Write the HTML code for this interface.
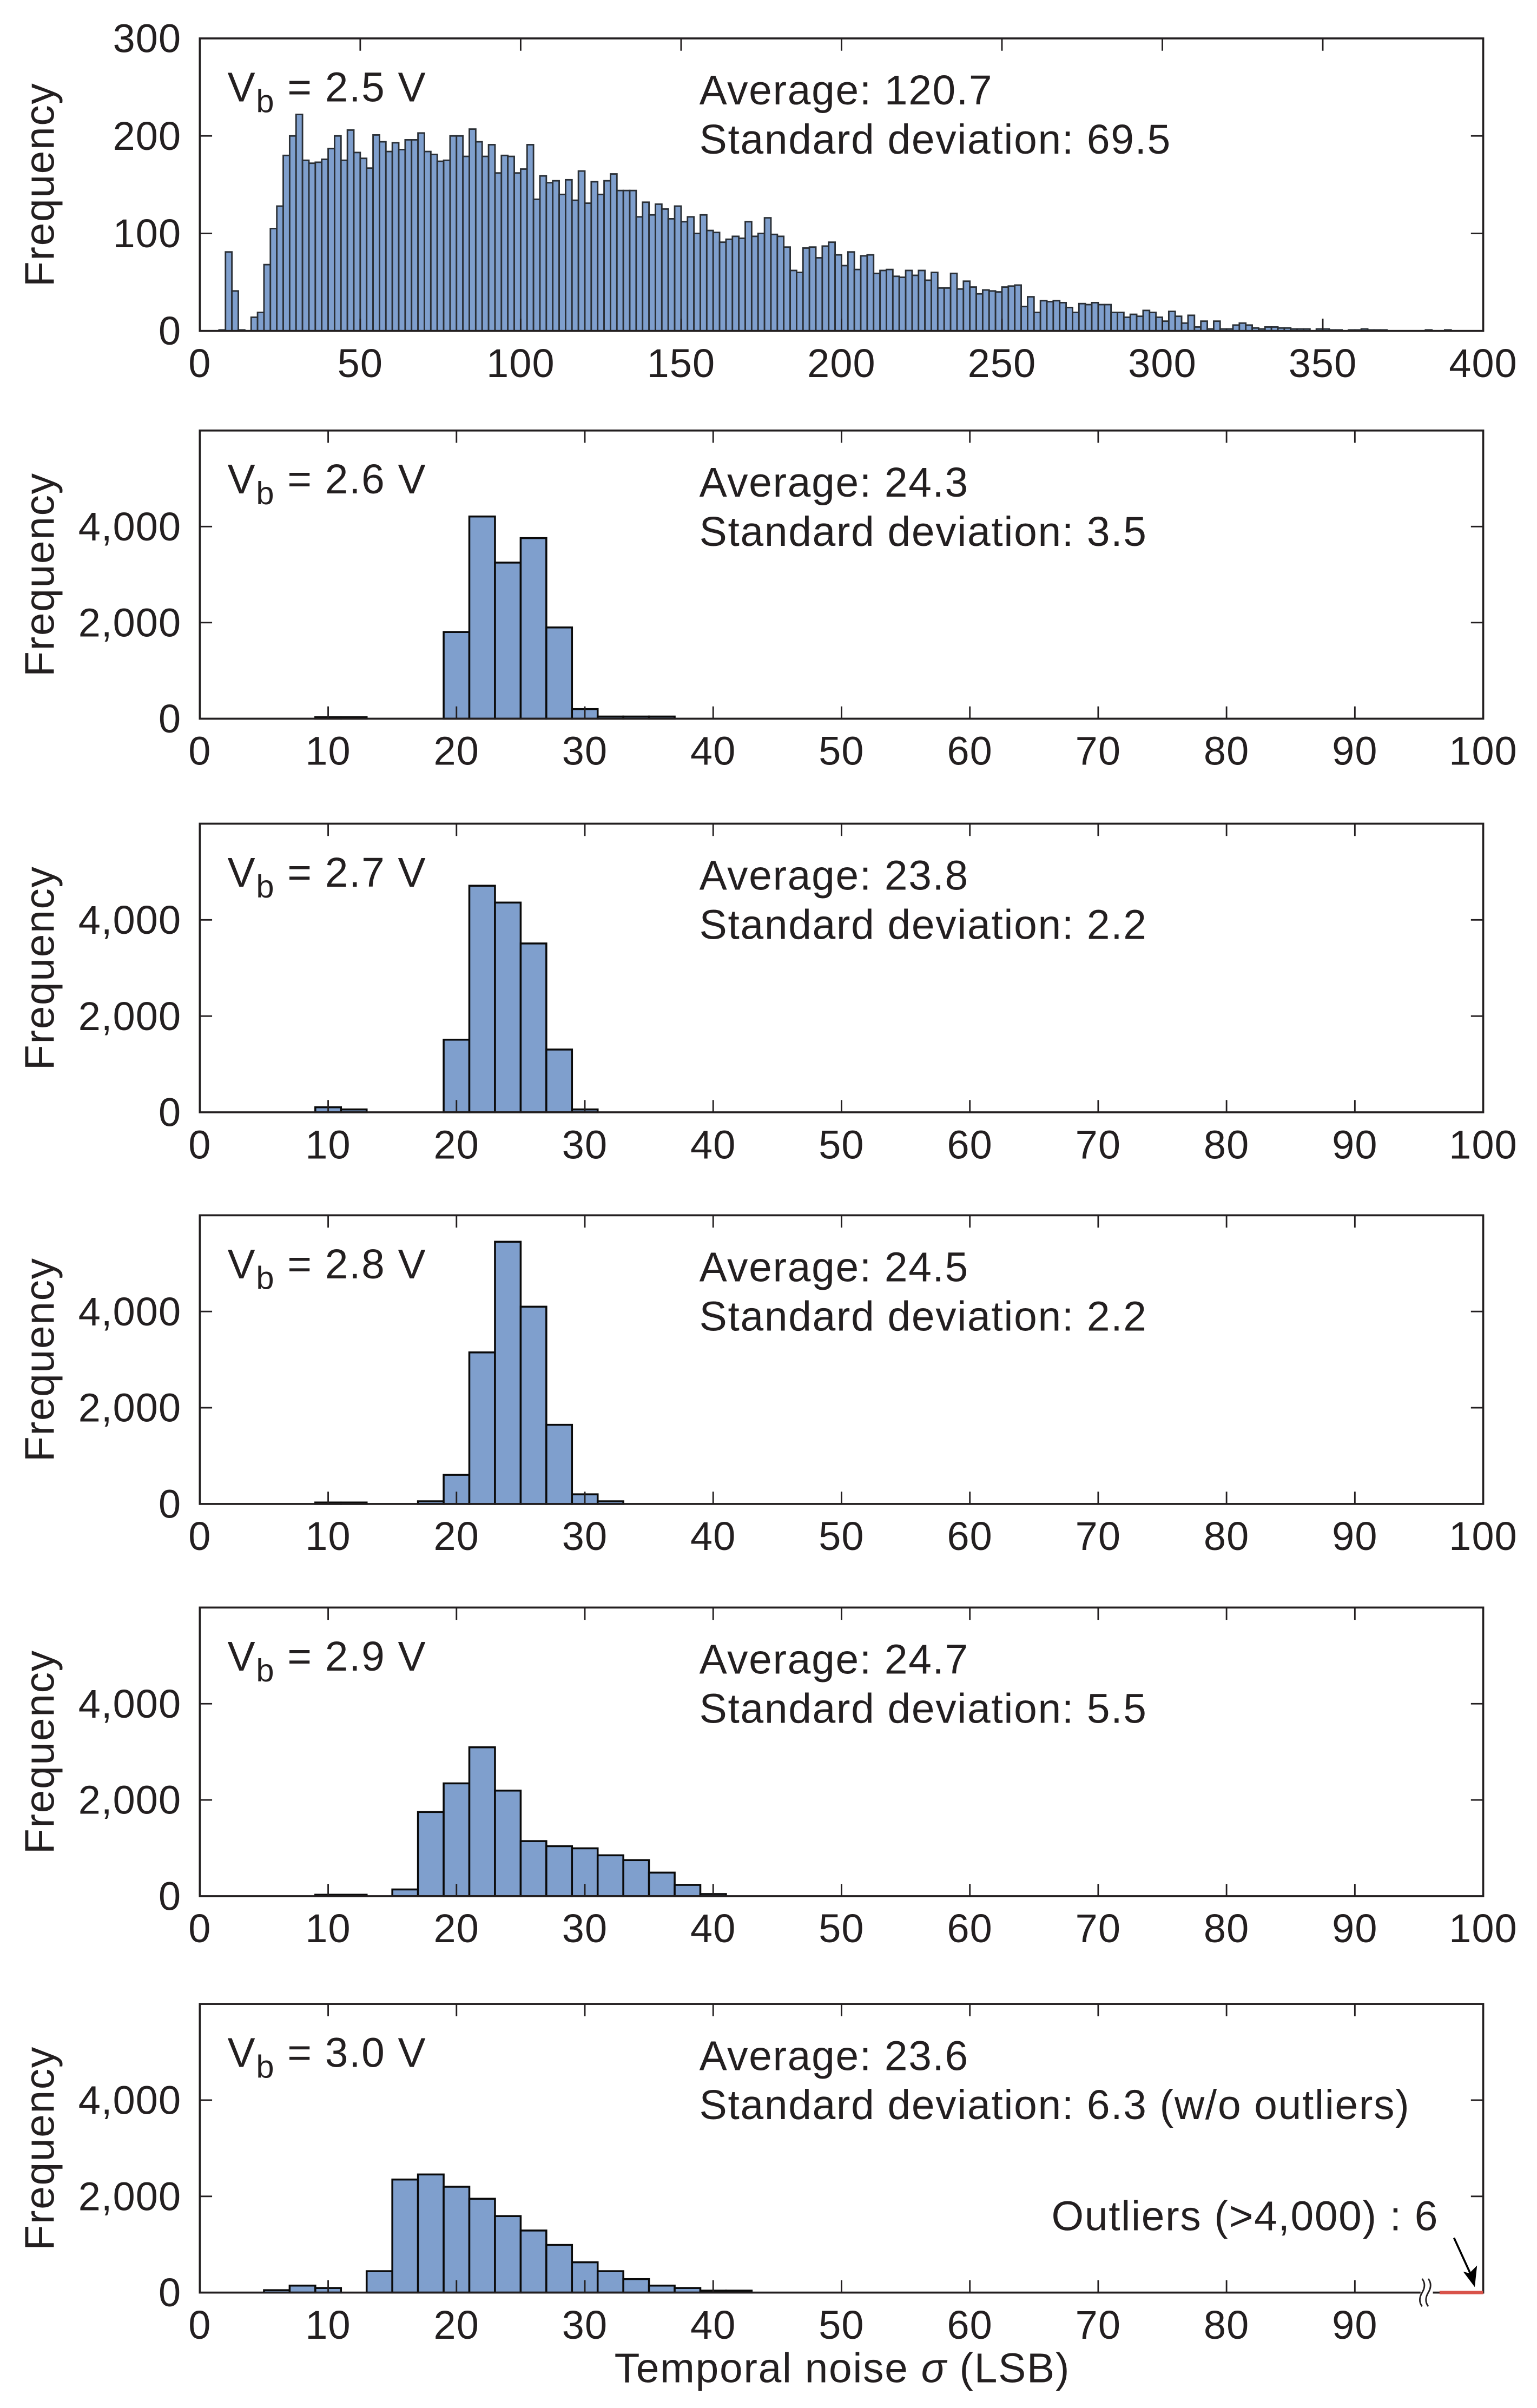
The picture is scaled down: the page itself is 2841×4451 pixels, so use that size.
<!DOCTYPE html>
<html><head><meta charset="utf-8"><style>
html,body{margin:0;padding:0;background:#fff;}
svg{display:block;}
text{font-family:"Liberation Sans",Arial,sans-serif;fill:#231f20;}
.lab{font-size:27px;letter-spacing:0.6px;}
.tick{font-size:26px;letter-spacing:0.4px;}
</style></head><body>
<svg id="chart" xmlns="http://www.w3.org/2000/svg" width="2841" height="4451" viewBox="0 0 1000 1566.7"></svg>
<script>
// ---- data ----
const p1Start = 6;
const p1BinWidth = 2;
const p1Counts = [1,81,41,1,0,14,19,68,105,128,180,200,222,175,172,173,176,187,200,175,206,183,177,167,201,194,184,193,186,196,196,203,184,181,174,175,200,200,179,207,194,179,191,162,180,179,162,166,191,135,159,152,154,140,155,134,164,131,153,140,154,161,144,
144,
144,117,132,119,130,125,115,128,112,117,100,119,103,101,91,94,97,95,112,97,100,116,99,97,86,62,60,85,86,75,87,91,78,67,81,63,77,78,59,62,63,56,55,62,57,62,52,60,44,44,59,43,51,45,38,42,41,40,45,46,47,25,35,19,31,30,
31,29,24,19,28,27,29,27,27,19,19,14,17,15,21,19,14,10,20,15,8,16,4,10,2,10,2,2,6,8,6,3,2,4,4,3,3,2,2,2,0,2,2,1,1,0,1,1,2,1,1,1,0,
0,0,0,0,0,1,0,0,1];
const p2Counts = [30,30,0,0,0,1805,4210,3250,3760,1900,200,45,45,45];
const p3Counts = [105,60,0,0,0,1510,4710,4360,3510,1305,60];
const p4Counts = [30,30,0,0,55,605,3150,5450,4100,1645,200,55];
const p5Counts = [30,30,0,140,1750,2345,3095,2195,1145,1040,995,850,750,490,235,45];
const p6Counts = [50,145,95,0,445,2350,2455,2200,1950,1590,1290,990,630,445,280,145,95,40,40];
const lowStarts = [9,9,9,9,5];
const voltages = ["2.5","2.6","2.7","2.8","2.9","3.0"];
const averages = ["120.7","24.3","23.8","24.5","24.7","23.6"];
const stdevs = ["69.5","3.5","2.2","2.2","5.5","6.3 (w/o outliers)"];
const p1XTicks = [0,50,100,150,200,250,300,350,400];
const p1YTicks = [0,100,200,300];
const lowXTicks = [0,10,20,30,40,50,60,70,80,90,100];
const lastXTicks = [0,10,20,30,40,50,60,70,80,90];
const lowYTicks = [0,2000,4000];
const lowYTickLabels = ["0","2,000","4,000"];

// ---- layout ----
const NS = "http://www.w3.org/2000/svg";
const svg = document.getElementById("chart");
const L = 130, R = 965;
const panels = [
  {top:25, bottom:215.3, xmax:400, ymax:300},
  {top:280.1, bottom:467.6, xmax:100, ymax:6000},
  {top:535.9, bottom:723.7, xmax:100, ymax:6000},
  {top:790.7, bottom:978.5, xmax:100, ymax:6000},
  {top:1045.9, bottom:1233.7, xmax:100, ymax:6000},
  {top:1303.8, bottom:1491.6, xmax:100, ymax:6000}
];
function mk(tag, attrs, parent){
  const e = document.createElementNS(NS, tag);
  for (const k in attrs) e.setAttribute(k, attrs[k]);
  (parent||svg).appendChild(e);
  return e;
}
const lowCounts = [p2Counts,p3Counts,p4Counts,p5Counts,p6Counts];

panels.forEach((p, i) => {
  const g = mk("g", {});
  
  
  const xs = v => L + (v / p.xmax) * (R - L);
  const ys = v => p.bottom - (v / p.ymax) * (p.bottom - p.top);

  const bars = mk("g", {}, g);
  
  
  let counts, start, bw;
  if (i === 0) { counts = p1Counts; start = p1Start; bw = p1BinWidth; }
  else { counts = lowCounts[i-1]; start = lowStarts[i-1]; bw = 2; }
  counts.forEach((c, k) => {
    if (c <= 0) return;
    const x0 = xs(start + k*bw), x1 = xs(start + (k+1)*bw);
    const r = mk("rect", {x:x0, y:ys(c), width:x1-x0, height:ys(0)-ys(c),
      fill:"#7f9fcd", stroke: i===0 ? "#2a2f35" : "#0a0a0a",
      "stroke-width": i===0 ? 1.0 : 1.25}, bars);
    
    
  });

  const fr = mk("rect", {x:L, y:p.top, width:R-L, height:p.bottom-p.top, fill:"none", stroke:"#231f20", "stroke-width":1.3}, g);
  
  

  const xt = i===0 ? p1XTicks : (i===5 ? lastXTicks : lowXTicks);
  xt.forEach(t => {
    const x = xs(t);
    if (t > 0 && t < p.xmax) {
      mk("line", {x1:x, x2:x, y1:p.bottom, y2:p.bottom-8, stroke:"#231f20", "stroke-width":1}, g);
      mk("line", {x1:x, x2:x, y1:p.top, y2:p.top+8, stroke:"#231f20", "stroke-width":1}, g);
    }
    const tx = mk("text", {x:x, y:p.bottom+30, "text-anchor":"middle", "class":"tick"}, g);
    tx.textContent = String(t);
    
    
  });
  const yt = i===0 ? p1YTicks : lowYTicks;
  yt.forEach((t, k) => {
    const y = ys(t);
    if (t > 0 && t < p.ymax) {
      mk("line", {x1:L, x2:L+8, y1:y, y2:y, stroke:"#231f20", "stroke-width":1}, g);
      mk("line", {x1:R, x2:R-8, y1:y, y2:y, stroke:"#231f20", "stroke-width":1}, g);
    }
    const tx = mk("text", {x:118, y:y+9, "text-anchor":"end", "class":"tick"}, g);
    tx.textContent = i===0 ? String(t) : lowYTickLabels[k];
    
    
  });

  const cy = (p.top + p.bottom)/2;
  const yl = mk("text", {x:35, y:cy, "text-anchor":"middle", "class":"lab", transform:`rotate(-90 35 ${cy})`}, g);
  yl.textContent = "Frequency";
  
  

  const vb = mk("text", {x:148, y:p.top+41, "class":"lab"}, g);
  
  
  vb.innerHTML = `V<tspan dy="7" font-size="21">b</tspan><tspan dy="-7"> = ${voltages[i]} V</tspan>`;
  const av = mk("text", {x:455, y:p.top+43, "class":"lab"}, g);
  av.textContent = "Average: " + averages[i];
  
  
  const sd = mk("text", {x:455, y:p.top+75, "class":"lab"}, g);
  sd.textContent = "Standard deviation: " + stdevs[i];
  
  

  if (i === 5) {
    const bx = xs(95.6), by = p.bottom;
    mk("rect", {x:bx-4, y:by-3, width:8, height:6, fill:"#fff"}, g);
    const br = mk("path", {d:`M${bx-3},${by-9} q3,4 0,9 q-3,5 0,9 M${bx+1},${by-9} q3,4 0,9 q-3,5 0,9`, fill:"none", stroke:"#231f20", "stroke-width":1}, g);
    
    
    const red = mk("line", {x1:xs(96.6), x2:R, y1:by, y2:by, stroke:"#d9534a", "stroke-width":2.2}, g);
    
    
    const ol = mk("text", {x:936, y:1451, "text-anchor":"end", "class":"lab"}, g);
    ol.textContent = "Outliers (>4,000) : 6";
    
    
    const ar = mk("line", {x1:946, y1:1456, x2:957, y2:1480, stroke:"#000", "stroke-width":1.3}, g);
    
    
    mk("path", {d:"M959.5,1488 L952,1478 L956,1479 L961,1474 Z", fill:"#000"}, g);
  }
});

const xt = mk("text", {x:548, y:1550, "text-anchor":"middle", "class":"lab"});
xt.innerHTML = 'Temporal noise <tspan font-style="italic">σ</tspan> (LSB)';


</script>
</body></html>
